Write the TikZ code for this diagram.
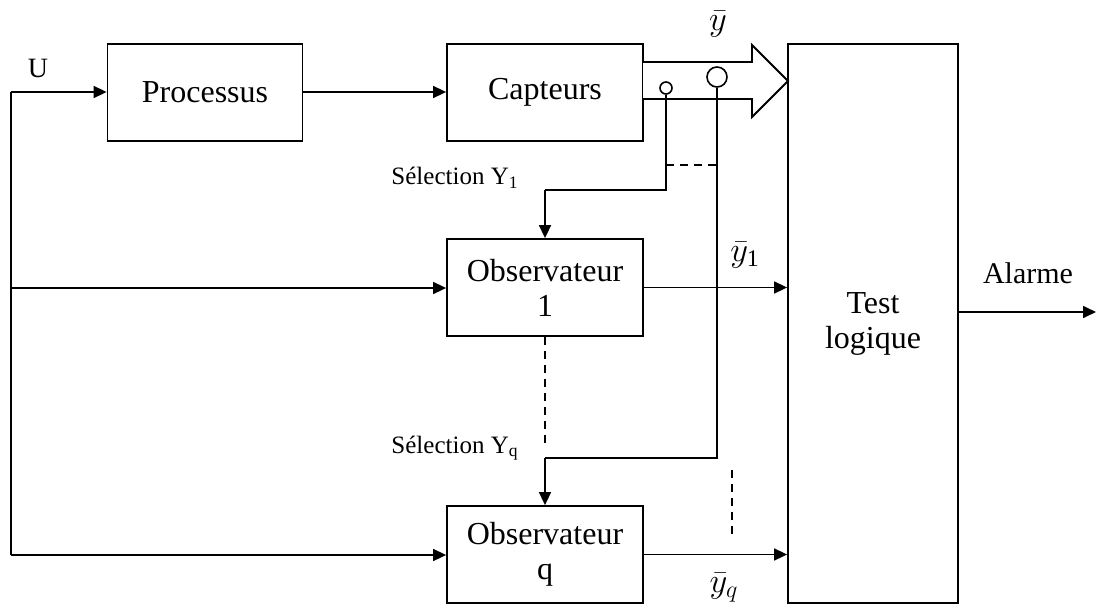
\documentclass[tikz,border=0pt]{standalone}
\usepackage{fontspec}
\setmainfont{Liberation Serif}
\usetikzlibrary{arrows.meta}
\begin{document}
\begin{tikzpicture}[x=0.5pt,y=-0.5pt,
  blk/.style={draw,line width=0.9pt,inner sep=0pt,align=center,
    font=\fontsize{16}{17.5}\selectfont},
  lbl/.style={inner sep=0pt,font=\fontsize{12.5}{14}\selectfont},
  mlbl/.style={inner sep=0pt,font=\fontsize{17}{20}\selectfont},
  conn/.style={line width=0.8pt},
  arr/.style={conn,-{Triangle[length=6.5pt,width=6pt]}},
  dsh/.style={line width=0.8pt,dash pattern=on 4pt off 3pt}]
\useasboundingbox (0,0) rectangle (1096,610);
% blocks
\node[blk,minimum width=97.5pt,minimum height=48.5pt] (proc) at (205,92.5) {Processus};
\node[blk,minimum width=98pt,minimum height=48.5pt] (capt) at (545,92.5) {Capteurs};
\node[blk,minimum width=98pt,minimum height=48.5pt] (obs1) at (545,287.5) {Observateur\\1};
\node[blk,minimum width=98pt,minimum height=48.5pt] (obsq) at (545,554.5) {Observateur\\q};
\node[blk,minimum width=85pt,minimum height=279.5pt] (test) at (873,323.5) {Test\\logique};
% input U
\coordinate (u0) at (11,92);
\coordinate (u1) at (11,288);
\coordinate (u2) at (11,555);
\node[lbl,font=\fontsize{14}{16}\selectfont] (ulbl) at (38,68) {U};
\draw[arr] (u0) -- (proc.west |- u0);
\draw[conn] (u0) -- (u2);
\draw[arr] (u1) -- (obs1.west |- u1);
\draw[arr] (u2) -- (obsq.west |- u2);
\draw[arr] (proc.east |- u0) -- (capt.west |- u0);
% big arrow (measurement vector)
\draw[line width=0.9pt,fill=white] (643,62) -- (752,62) -- (752,45) -- (788,81) -- (752,117) -- (752,99) -- (643,99);
\node[mlbl] (ybar) at (718,24) {$\bar{y}$};
% selection circles
\node[draw,circle,line width=0.8pt,minimum size=6pt,inner sep=0pt] (c1) at (666,88) {};
\node[draw,circle,line width=0.8pt,minimum size=10pt,inner sep=0pt] (c2) at (717,77) {};
\coordinate (s1a) at (666,190);
\coordinate (s1b) at (545,190);
\coordinate (sqa) at (717,458);
\coordinate (sqb) at (545,458);
\draw[conn] (c1.south) -- (s1a) -- (s1b);
\draw[arr] (s1b) -- (obs1.north);
\draw[conn] (c2.south) -- (sqa) -- (sqb);
\draw[arr] (sqb) -- (obsq.north);
\coordinate (d1a) at (666,165);
\coordinate (d1b) at (717,165);
\draw[dsh] (d1a) -- (d1b);
\node[lbl] (sel1) at (455,178) {Sélection Y\textsubscript{1}};
\node[lbl] (selq) at (455,448) {Sélection Y\textsubscript{q}};
% dashed continuations
\coordinate (d2) at (545,443);
\draw[dsh] (obs1.south) -- (d2);
\coordinate (d3a) at (732,470);
\coordinate (d3b) at (732,536);
\draw[dsh] (d3a) -- (d3b);
% outputs
\draw[arr] (obs1.east) -- (test.west |- obs1.east);
\draw[arr] (obsq.east) -- (test.west |- obsq.east);
\node[mlbl] (y1) at (745,255) {$\bar{y}_{\mathrm{1}}$};
\node[mlbl] (yq) at (724,588) {$\bar{y}_q$};
% alarm
\coordinate (al) at (1096,312);
\draw[arr] (test.east |- al) -- (al);
\node[lbl,font=\fontsize{15}{17}\selectfont] (alarme) at (1028,273) {Alarme};
\end{tikzpicture}
\end{document}
